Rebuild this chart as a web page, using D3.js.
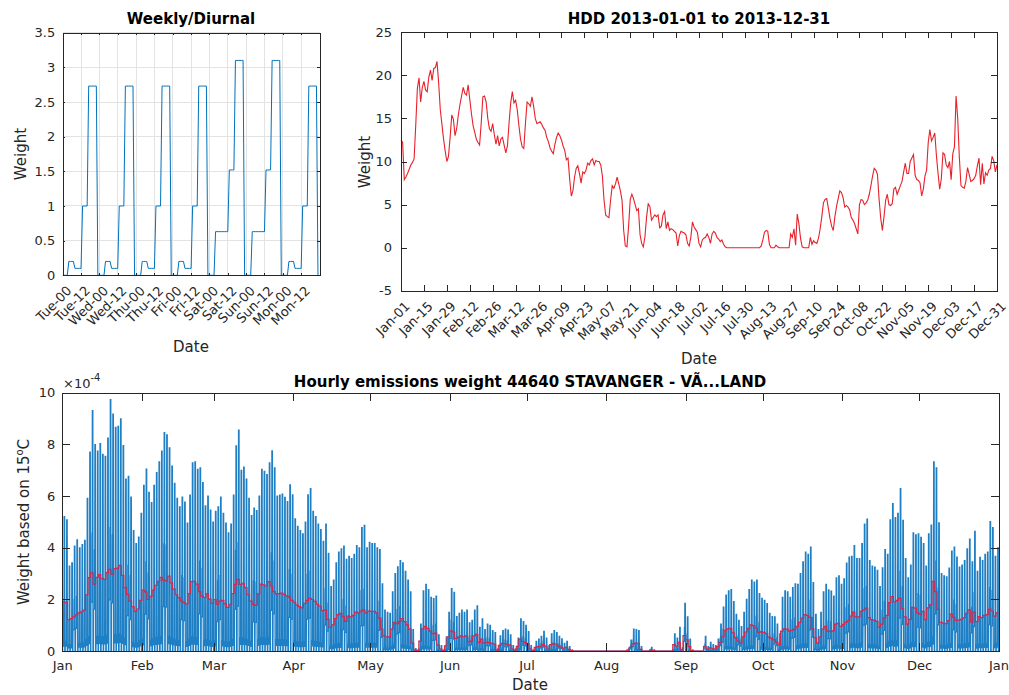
<!DOCTYPE html>
<html>
<head>
<meta charset="utf-8">
<script src="https://cdn.jsdelivr.net/npm/d3@7"></script>
<style>
  body { margin: 0; background: #fff; }
  svg { font-family: "DejaVu Sans", sans-serif; }
  .axis text { fill: #262626; font-size: 13px; font-family: "DejaVu Sans", sans-serif; }
  .axis path, .axis line { stroke: #262626; shape-rendering: crispEdges; }
  .title { font-weight: bold; font-size: 15px; fill: #000; }
  .label { font-size: 15px; fill: #262626; }
</style>
</head>
<body>
<svg id="chart" width="1009" height="695"></svg>
<script>
// ---------- data ----------
// weekly / diurnal profile (hourly weights), week starts Tuesday 00:00
const weeklyTickLabels = ["Tue-00", "Tue-12", "Wed-00", "Wed-12", "Thu-00", "Thu-12", "Fri-00",
  "Fri-12", "Sat-00", "Sat-12", "Sun-00", "Sun-12", "Mon-00", "Mon-12"];
const weekdayProfile = [0, 0, 0, 0, 0.2, 0.2, 0.2, 0.2, 0.1, 0.1, 0.1, 0.1,
  0.1, 1, 1, 1, 1, 2.73, 2.73, 2.73, 2.73, 2.73, 2.73, 0];
const weekendProfile = [0, 0, 0, 0, 0.63, 0.63, 0.63, 0.63, 0.63, 0.63, 0.63, 0.63,
  0.63, 1.52, 1.52, 1.52, 1.52, 3.1, 3.1, 3.1, 3.1, 3.1, 3.1, 0];
const weekDayTypes = ["weekday", "weekday", "weekday", "weekday", "weekend", "weekend", "weekday"];

// daily heating degree days 2013 (Jan 1 = Tuesday)
const hddDaily = [
  12.5, 12.2, 7.9, 8.2, 8.6, 9.1, 9.6, 9.9, 10.3, 14.2,
  18.5, 19.7, 16.9, 18.6, 19.3, 18.3, 18.1, 19.8, 20.6, 19.4,
  20.8, 20.9, 21.6, 19.1, 16.0, 14.3, 12.6, 11.2, 10.0, 10.6,
  12.8, 15.4, 14.9, 13.0, 13.8, 15.4, 16.6, 17.6, 18.6, 17.9,
  17.7, 18.9, 17.2, 15.6, 14.2, 13.4, 12.6, 12.2, 11.9, 14.5,
  17.5, 17.6, 16.9, 15.0, 13.8, 13.5, 14.4, 13.1, 12.0, 13.0,
  11.8, 12.6, 12.8, 11.9, 11.0, 11.8, 14.5, 16.8, 18.1, 16.8,
  17.1, 16.0, 14.2, 12.6, 11.7, 11.5, 14.4, 16.9, 16.7, 16.4,
  17.5, 16.4, 15.0, 14.4, 14.5, 14.6, 14.3, 13.9, 13.6, 12.8,
  12.3, 11.6, 11.2, 10.9, 12.0, 12.8, 13.3, 13.0, 12.5, 11.8,
  11.3, 10.2, 10.4, 8.0, 6.0, 6.6, 8.2, 9.2, 9.5, 8.6,
  7.5, 8.8, 8.6, 9.0, 9.8, 9.6, 10.1, 10.3, 9.6, 10.1,
  10.0, 10.0, 9.6, 8.3, 5.5, 3.8, 3.6, 3.5, 5.5, 7.2,
  6.9, 7.4, 8.2, 7.4, 6.6, 5.5, 2.0, 0.2, 0.1, 2.5,
  5.6, 6.2, 5.7, 5.0, 4.3, 4.5, 1.5, 0.5, 0.1, 1.3,
  3.6, 5.1, 4.8, 3.2, 3.5, 3.8, 3.6, 3.8, 2.3, 2.5,
  3.8, 4.2, 2.2, 3.0, 2.0, 2.2, 2.1, 1.9, 1.7, 0.2,
  1.4, 1.9, 1.8, 1.7, 1.5, 0.5, 0.2, 1.2, 3.0, 2.4,
  2.1, 1.8, 0.5, 0.1, 0.9, 1.1, 1.2, 1.6, 1.2, 0.5,
  1.6, 1.9, 1.7, 1.2, 1.0, 0.7, 0.9, 0.4, 0.1, 0,
  0, 0, 0, 0, 0, 0, 0, 0, 0, 0,
  0, 0, 0, 0, 0, 0, 0, 0, 0, 0,
  0.2, 0.9, 1.8, 2.0, 1.9, 0.4, 0, 0, 0, 0.3,
  0.1, 0, 0, 0, 0, 0, 0, 0, 1.6, 1.2,
  2.2, 0.3, 3.9, 2.8, 1.1, 0.1, 0, 0, 0, 0,
  1.2, 0.4, 0.8, 0.6, 0.5, 1.1, 2.2, 3.6, 5.2, 5.6,
  5.7, 4.6, 3.4, 2.5, 2.0, 3.6, 4.8, 5.7, 6.6, 6.4,
  5.8, 4.7, 4.9, 4.7, 4.4, 3.5, 3.2, 2.8, 2.2, 1.6,
  5.0, 5.6, 5.5, 5.0, 5.2, 5.5, 6.2, 7.2, 8.3, 9.2,
  9.0, 8.5, 5.6, 3.4, 2.0, 3.6, 5.5, 6.2, 5.0, 4.9,
  5.1, 6.8, 7.0, 6.2, 6.7, 7.2, 7.7, 8.8, 9.8, 8.6,
  8.6, 10.0, 10.4, 10.8, 8.4, 7.9, 7.8, 7.5, 6.0, 6.8,
  8.3, 9.0, 12.2, 13.7, 12.4, 12.8, 13.3, 10.7, 8.6, 6.8,
  8.0, 11.0, 10.8, 9.6, 9.3, 10.0, 7.9, 10.9, 11.7, 17.6,
  15.0, 10.5, 7.2, 7.0, 6.9, 7.7, 9.3, 8.5, 7.7, 7.8,
  8.0, 8.4, 9.5, 10.4, 7.3, 9.8, 7.4, 8.7, 8.4, 9.0,
  9.2, 10.6, 10.1, 8.8, 9.6
];
const hddTickLabels = ["Jan-01", "Jan-15", "Jan-29", "Feb-12", "Feb-26", "Mar-12", "Mar-26",
  "Apr-09", "Apr-23", "May-07", "May-21", "Jun-04", "Jun-18", "Jul-02", "Jul-16", "Jul-30",
  "Aug-13", "Aug-27", "Sep-10", "Sep-24", "Oct-08", "Oct-22", "Nov-05", "Nov-19", "Dec-03",
  "Dec-17", "Dec-31"];
const monthLabels = ["Jan", "Feb", "Mar", "Apr", "May", "Jun", "Jul", "Aug", "Sep", "Oct",
  "Nov", "Dec", "Jan"];

// ---------- helpers ----------
var svg = d3.select("#chart");
var profiles = { weekday: weekdayProfile, weekend: weekendProfile };

function profileAt(day, hour) {
  return profiles[weekDayTypes[day % 7]][hour];
}

// MATLAB style box: ticks pointing inward on all four sides
function drawFrame(x, y, o) {
  var x0 = x.range()[0], x1 = x.range()[1], yb = y.range()[0], yt = y.range()[1];
  var gb = svg.append("g").attr("class", "axis").attr("transform", "translate(0," + yb + ")")
    .call(d3.axisBottom(x).tickValues(o.xTicks).tickFormat(o.xFmt)
      .tickSizeInner(-o.tick).tickSizeOuter(0).tickPadding(o.xPad));
  svg.append("g").attr("class", "axis").attr("transform", "translate(0," + yt + ")")
    .call(d3.axisTop(x).tickValues(o.xTicks).tickFormat("").tickSizeInner(-o.tick).tickSizeOuter(0));
  svg.append("g").attr("class", "axis").attr("transform", "translate(" + x0 + ",0)")
    .call(d3.axisLeft(y).tickValues(o.yTicks).tickFormat(o.yFmt)
      .tickSizeInner(-o.tick).tickSizeOuter(0).tickPadding(o.yPad));
  svg.append("g").attr("class", "axis").attr("transform", "translate(" + x1 + ",0)")
    .call(d3.axisRight(y).tickValues(o.yTicks).tickFormat("").tickSizeInner(-o.tick).tickSizeOuter(0));
  return gb;
}

function rotateLabels(g) {
  g.selectAll(".tick text")
    .attr("x", 0).attr("y", 0).attr("dy", "0.35em")
    .attr("text-anchor", "end")
    .attr("transform", "translate(6,13) rotate(-45)");
}

function addText(cls, x, y, txt, rot) {
  var t = svg.append("text").attr("class", cls).attr("text-anchor", "middle");
  if (rot) t.attr("transform", "translate(" + x + "," + y + ") rotate(-90)");
  else t.attr("x", x).attr("y", y);
  t.text(txt);
  return t;
}

// ---------- Weekly/Diurnal ----------
var weekHours = d3.range(168);
var xW = d3.scaleLinear().domain([0, 168]).range([62.7, 319.5]);
var yW = d3.scaleLinear().domain([0, 3.5]).range([275.3, 32.7]);
var weekTicks = weeklyTickLabels.map((d, i) => i * 12);
var weekYTicks = d3.range(0, 3.51, 0.5);

svg.append("g").selectAll("line.gx").data(weekTicks.slice(1)).enter().append("line")
  .attr("x1", d => xW(d)).attr("x2", d => xW(d)).attr("y1", yW(0)).attr("y2", yW(3.5))
  .attr("stroke", "#e3e3e3").attr("shape-rendering", "crispEdges");
svg.append("g").selectAll("line.gy").data(weekYTicks.slice(1)).enter().append("line")
  .attr("x1", xW(0)).attr("x2", xW(168)).attr("y1", d => yW(d)).attr("y2", d => yW(d))
  .attr("stroke", "#e3e3e3").attr("shape-rendering", "crispEdges");

svg.append("path")
  .datum(weekHours)
  .attr("fill", "none")
  .attr("stroke", "#0072BD")
  .attr("stroke-width", 1)
  .attr("d", d3.line().x(h => xW(h)).y(h => yW(profileAt(Math.floor(h / 24), h % 24))));

var gW = drawFrame(xW, yW, {
  xTicks: weekTicks, xFmt: (d, i) => weeklyTickLabels[i], xPad: 4,
  yTicks: weekYTicks, yFmt: d => String(d), yPad: 7.5, tick: 2.6
});
rotateLabels(gW);

addText("title", 191, 24, "Weekly/Diurnal");
addText("label", 191, 352, "Date");
addText("label", 25.5, 154, "Weight", true);

// ---------- HDD ----------
var xH = d3.scaleLinear().domain([0, 364]).range([401, 997]);
var yH = d3.scaleLinear().domain([-5, 25]).range([290.8, 32.2]);

svg.append("path")
  .datum(hddDaily)
  .attr("fill", "none")
  .attr("stroke", "#e8202a")
  .attr("stroke-width", 1.1)
  .attr("d", d3.line().x((d, i) => xH(i)).y(d => yH(d)));

var gH = drawFrame(xH, yH, {
  xTicks: hddTickLabels.map((d, i) => i * 14), xFmt: (d, i) => hddTickLabels[i], xPad: 4,
  yTicks: d3.range(-5, 26, 5), yFmt: d => String(d), yPad: 9, tick: 6
});
rotateLabels(gH);

addText("title", 699, 24, "HDD 2013-01-01 to 2013-12-31");
addText("label", 699, 364, "Date");
addText("label", 370, 162, "Weight", true);

// ---------- Hourly emissions ----------
// hourly weight = daily HDD x weekly/diurnal profile, normalised to sum 1 over the year
var t0 = Date.UTC(2013, 0, 1);
var hourly = [];
hddDaily.forEach(function (v, day) {
  for (var h = 0; h < 24; h++) hourly.push({ t: new Date(t0 + (day * 24 + h) * 3600e3), raw: v * profileAt(day, h) });
});
var rawSum = d3.sum(hourly, d => d.raw);
hourly.forEach(d => { d.w = d.raw / rawSum; });
// HDD only weight (flat within the day)
var hddSum = d3.sum(hddDaily) * 24;
var hddHourly = hddDaily.map((v, day) => ({ t: new Date(t0 + day * 86400e3), w: v / hddSum }));
hddHourly.push({ t: new Date(t0 + 365 * 86400e3), w: hddDaily[364] / hddSum });

var xE = d3.scaleUtc().domain([new Date(t0), new Date(Date.UTC(2014, 0, 1))]).range([62.3, 998.5]);
var yE = d3.scaleLinear().domain([0, 10e-4]).range([651, 392.7]);

svg.append("path")
  .datum(hourly)
  .attr("fill", "none")
  .attr("stroke", "#1f7fc4")
  .attr("stroke-width", 1.25)
  .attr("d", d3.line().x(d => xE(d.t)).y(d => yE(d.w)));

svg.append("path")
  .datum(hddHourly)
  .attr("fill", "none")
  .attr("stroke", "#cf2a4f")
  .attr("stroke-width", 1.2)
  .attr("d", d3.line().curve(d3.curveStepAfter).x(d => xE(d.t)).y(d => yE(d.w)));

drawFrame(xE, yE, {
  xTicks: monthLabels.map((d, i) => new Date(Date.UTC(2013, i, 1))), xFmt: (d, i) => monthLabels[i], xPad: 10,
  yTicks: d3.range(0, 6).map(i => i * 2e-4), yFmt: d => String(Math.round(d * 1e4)), yPad: 7, tick: 8
});

var exp = svg.append("text").attr("x", 63).attr("y", 388).attr("fill", "#262626").attr("font-size", 13);
exp.append("tspan").text("\u00d710");
exp.append("tspan").attr("dy", -7).attr("font-size", 10).text("-4");

addText("title", 530, 387, "Hourly emissions weight 44640 STAVANGER - V\u00c3...LAND");
addText("label", 530, 690, "Date");
var yl = addText("label", 29, 522, "", true);
yl.append("tspan").text("Weight based on 15");
yl.append("tspan").attr("dy", -6).attr("font-size", 10).text("o");
yl.append("tspan").attr("dy", 6).text("C");
</script>
</body>
</html>
